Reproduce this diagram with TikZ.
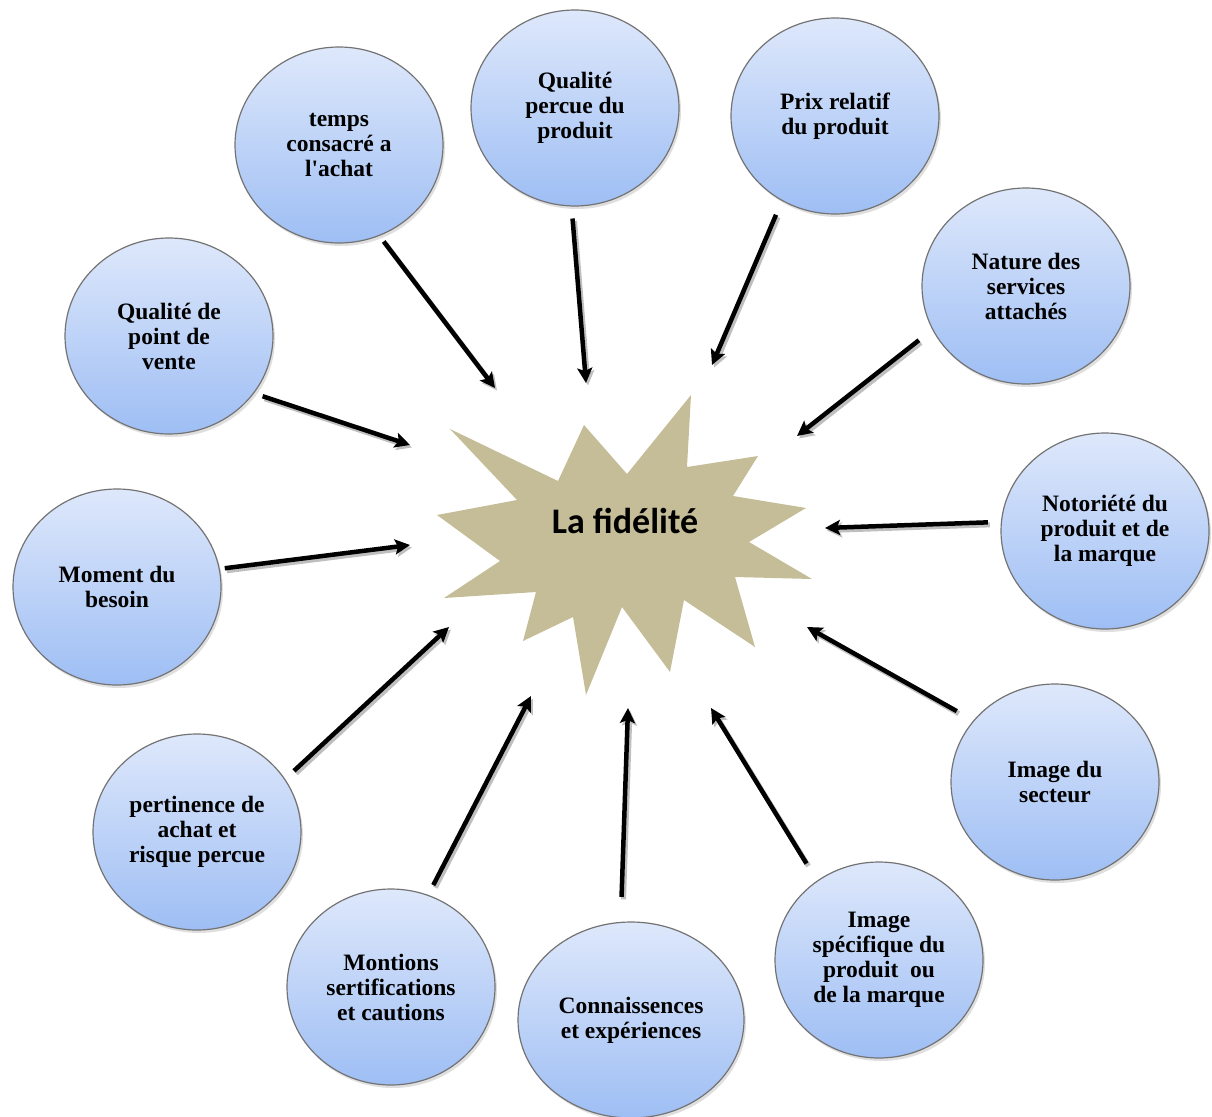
\documentclass[tikz,border=0pt]{standalone}
\usepackage{fontspec}
\setmainfont{Liberation Serif}
\newfontfamily\starfont{Carlito}
\usetikzlibrary{arrows.meta,shapes.geometric,shadows}
\definecolor{startan}{HTML}{C4BD97}
\definecolor{btop}{HTML}{DEE8FB}
\definecolor{bbot}{HTML}{9EBEF4}
\definecolor{bline}{HTML}{737373}
\tikzset{
 bubble/.style={ellipse, minimum width=208pt, minimum height=196pt, inner sep=0pt,
   draw=bline, line width=1.2pt, top color=btop, bottom color=bbot, align=center,
   font=\fontsize{23.5}{25}\selectfont\bfseries,
   drop shadow={opacity=0.25, shadow xshift=2pt, shadow yshift=-3pt}},
 link/.style={line width=4.5pt, -{Stealth[length=15pt,width=15pt,inset=3pt]},
   preaction={draw=black!25, line width=5pt, transform canvas={shift={(2pt,-2.5pt)}}}}
}
\begin{document}
\begin{tikzpicture}[x=1pt,y=-1pt]
\useasboundingbox (0,0) rectangle (1212,1116);
% star
\fill[startan] (450,429) -- (558,481) -- (584,425) -- (627,474) -- (691,395) -- (687,467)
  -- (758,456) -- (733,496) -- (806,508) -- (749,542) -- (812,579) -- (735,577)
  -- (755,647) -- (684,600) -- (670,672) -- (622,607) -- (586,695) -- (573,617)
  -- (523,641) -- (536,592) -- (444,598) -- (500,561) -- (437,515) -- (517,500) -- cycle;
\node[font=\starfont\bfseries\fontsize{36}{40}\selectfont] (fid) at (625,521) {La fidélité};
% bubbles
\node[bubble] (n1) at (339,145) {temps\\consacré a\\l\textquotesingle achat};
\node[bubble] (n2) at (575,108) {Qualité\\percue du\\produit};
\node[bubble] (n3) at (835,116) {Prix relatif\\du produit};
\node[bubble] (n4) at (1026,286) {Nature des\\services\\attachés};
\node[bubble] (n5) at (1105,531) {Notoriété du\\produit et de\\la marque};
\node[bubble] (n6) at (1055,782) {Image du\\secteur};
\node[bubble] (n7) at (879,960) {Image\\spécifique du\\produit~ ou\\de la marque};
\node[bubble, minimum width=226pt] (n8) at (631,1020) {Connaissences\\et expériences};
\node[bubble] (n9) at (391,987) {Montions\\sertifications\\et cautions};
\node[bubble] (n10) at (197,832) {pertinence de\\achat et\\risque percue};
\node[bubble] (n11) at (117,587) {Moment du\\besoin};
\node[bubble] (n12) at (169,336) {Qualité de\\point de\\vente};
% arrow tips
\coordinate (t1) at (495,388);
\coordinate (t2) at (586,383);
\coordinate (t3) at (712,365);
\coordinate (t4) at (797,436);
\coordinate (t5) at (825,528);
\coordinate (t6) at (807,627);
\coordinate (t7) at (711,708);
\coordinate (t8) at (628,708);
\coordinate (t9) at (531,696);
\coordinate (t10) at (449,627);
\coordinate (t11) at (410,545);
\coordinate (t12) at (410,445);
% arrows
\draw[link, shorten <=7pt] (n1.-66) -- (t1);
\draw[link, shorten <=12pt] (n2.-92) -- (t2);
\draw[link, shorten <=15pt] (n3.-122) -- (t3);
\draw[link, shorten <=17pt] (n4.-155) -- (t4);
\draw[link, shorten <=13pt] (n5.175) -- (t5);
\draw[link, shorten <=19pt] (n6.143) -- (t6);
\draw[link, shorten <=20pt] (n7.128) -- (t7);
\draw[link, shorten <=25pt] (n8.96) -- (t8);
\draw[link, shorten <=11pt] (n9.68) -- (t9);
\draw[link, shorten <=12pt] (n10.31) -- (t10);
\draw[link, shorten <=5pt] (n11.10) -- (t11);
\draw[link, shorten <=9pt] (n12.-34) -- (t12);
\end{tikzpicture}
\end{document}
